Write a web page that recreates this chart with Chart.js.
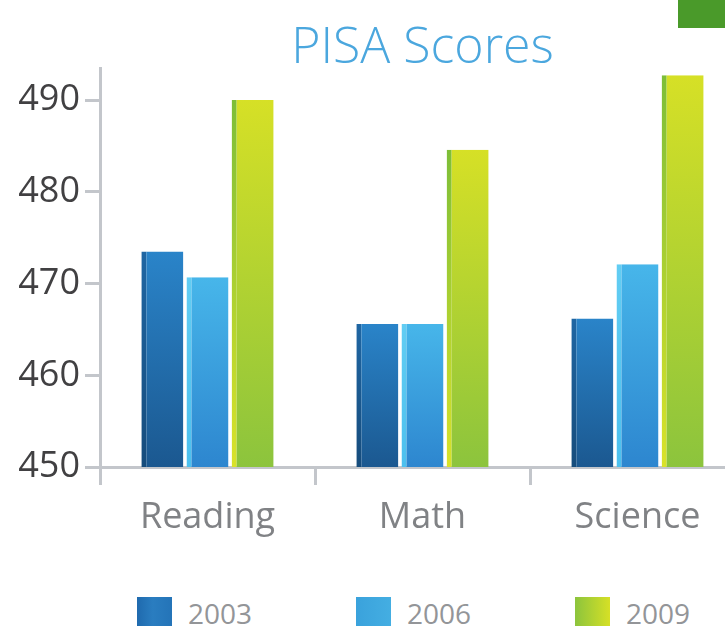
<!DOCTYPE html>
<html>
<head>
<meta charset="utf-8">
<script src="https://cdn.jsdelivr.net/npm/chart.js@4/dist/chart.umd.min.js"></script>
<style>
  html, body { margin: 0; padding: 0; background: #fff; overflow: hidden; width: 725px; height: 626px; }
  #wrap { position: relative; width: 725px; height: 626px; overflow: hidden; }
  #myChart { position: absolute; left: 0; top: 0; }
  #corner { position: absolute; left: 678px; top: 0; width: 47px; height: 28px; background: #4a9a2a; }
  #legend { position: absolute; left: 137px; top: 597px; display: flex; gap: 104px; font-family: "Open Sans", sans-serif; font-size: 28px; color: #939598; }
  #legend .item { display: flex; align-items: flex-start; }
  #legend .box { width: 35px; height: 30px; margin-right: 16px; }
  #legend .txt { line-height: 30px; margin-top: 1px; }
</style>
</head>
<body>
<div id="wrap">
  <canvas id="myChart" width="745" height="547"></canvas>
  <div id="corner"></div>
  <div id="legend"></div>
</div>
<script>
// chart data
var categories = ['Reading', 'Math', 'Science'];
var years = ['2003', '2006', '2009'];
var scores2003 = [473.5, 465.6, 466.2];
var scores2006 = [470.7, 465.6, 472.1];
var scores2009 = [490, 484.6, 492.7];
var yTicks = [450, 460, 470, 480, 490];

// colours: [top, bottom] of the face, [top, bottom] of the left side
var faceColors = [
    ['#2a84c9', '#1b5890'],
    ['#47b6ea', '#2d86cf'],
    ['#d6e026', '#8cc43d']
];
var sideColors = [
    ['#1f66a3', '#164c7c'],
    ['#62cdf3', '#4cc0ee'],
    ['#7dbe38', '#d9e22a']
];
var legendCss = [
    'linear-gradient(to right, #1f6aae, #2a7dc0 45%, #2474b8)',
    'linear-gradient(to right, #3aa2dc, #44aee2)',
    'linear-gradient(to right, #8cc43d, #d6e026)'
];

function barGradient(pair) {
    return function (ctx) {
        var chart = ctx.chart;
        var area = chart.chartArea;
        if (!area || ctx.raw === undefined) return pair[1];
        var top = chart.scales.y.getPixelForValue(ctx.raw);
        var g = chart.ctx.createLinearGradient(0, top, 0, area.bottom);
        g.addColorStop(0, pair[0]);
        g.addColorStop(1, pair[1]);
        return g;
    };
}

var seriesList = [scores2003, scores2006, scores2009];
var datasets = [];
for (let i = 0; i < years.length; i++) {
    datasets.push({
        label: years[i],
        data: seriesList[i],
        backgroundColor: barGradient(faceColors[i]),
        borderColor: barGradient(sideColors[i]),
        borderWidth: { left: 5, top: 0, right: 0, bottom: 0 },
        borderSkipped: false,
        categoryPercentage: 0.63,
        barPercentage: 0.93
    });
}

// html legend built from the chart's legend items
const htmlLegend = {
    id: 'htmlLegend',
    afterUpdate(chart) {
        var box = document.getElementById('legend');
        box.innerHTML = '';
        var items = chart.options.plugins.legend.labels.generateLabels(chart);
        items.forEach((item, i) => {
            var el = document.createElement('div');
            el.className = 'item';
            var sw = document.createElement('div');
            sw.className = 'box';
            sw.style.background = legendCss[i];
            var t = document.createElement('div');
            t.className = 'txt';
            t.textContent = item.text;
            el.appendChild(sw);
            el.appendChild(t);
            box.appendChild(el);
        });
    }
};

var axisGray = '#c3c6cb';

const ctx = document.getElementById('myChart');
var myChart = new Chart(ctx, {
    type: 'bar',
    data: {
        labels: categories,
        datasets: datasets
    },
    plugins: [htmlLegend],
    options: {
        responsive: false,
        animation: false,
        layout: { padding: 0 },
        plugins: {
            legend: { display: false },
            tooltip: { enabled: false },
            title: {
                display: true,
                fullSize: false,
                text: 'PISA Scores',
                color: '#4ba7de',
                font: { family: '"Open Sans", sans-serif', size: 50, weight: '300', lineHeight: 1.0 },
                padding: { top: 24, bottom: -6 }
            }
        },
        scales: {
            x: {
                grid: {
                    offset: true,
                    drawOnChartArea: false,
                    drawTicks: true,
                    tickLength: 18,
                    color: axisGray,
                    lineWidth: 3
                },
                border: { color: axisGray, width: 3 },
                ticks: {
                    color: '#808285',
                    padding: 11,
                    font: { family: '"Open Sans", sans-serif', size: 36 }
                },
                afterFit: function (scale) { scale.height = 80; }
            },
            y: {
                min: 450,
                max: 493.5,
                afterBuildTicks: function (scale) {
                    scale.ticks = yTicks.map(v => ({ value: v }));
                },
                grid: {
                    drawOnChartArea: false,
                    drawTicks: true,
                    tickLength: 15,
                    color: axisGray,
                    lineWidth: 3
                },
                border: { color: axisGray, width: 3 },
                ticks: {
                    color: '#414042',
                    padding: 5,
                    font: { family: '"Open Sans", sans-serif', size: 36 }
                },
                afterFit: function (scale) { scale.width = 100; }
            }
        }
    }
});
</script>
</body>
</html>
